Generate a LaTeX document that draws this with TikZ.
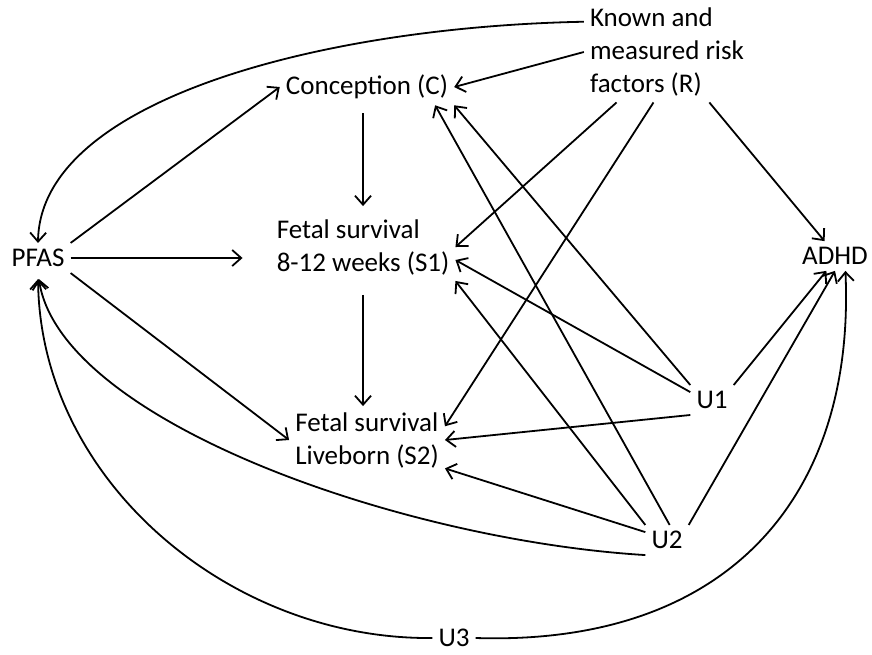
\documentclass[tikz,border=0pt]{standalone}
\usepackage{fontspec}
\setmainfont{Carlito}
\usepackage{tikz}
\usetikzlibrary{arrows.meta,positioning}

\begin{document}
\begin{tikzpicture}[x=1pt, y=-1pt,
  var/.style={font=\fontsize{27}{33}\selectfont, align=left, inner sep=6pt},
  arr/.style={-{Straight Barb[length=9pt,width=16pt]}, line width=1.8pt}
]
\useasboundingbox (0,0) rectangle (872,654);
\node[var] (pfas) at (38,258)  {PFAS};
\node[var] (conc) at (367,87)  {Conception (C)};
\node[var] (risk) at (667,52)  {Known and\\measured risk\\factors (R)};
\node[var] (s1)   at (363,247) {Fetal survival\\8-12 weeks (S1)};
\node[var] (s2)   at (367,440) {Fetal survival\\Liveborn (S2)};
\node[var] (adhd) at (835,256) {ADHD};
\node[var] (u1)   at (712,400) {U1};
\node[var] (u2)   at (667,540) {U2};
\node[var] (u3)   at (454,638) {U3};
\draw[arr] (pfas.north east) -- (conc.west);
\draw[arr, shorten >=28pt] (pfas.east) -- (pfas.east -| s1.west);
\draw[arr] (pfas.south east) -- (s2.west);
\draw[arr, shorten <=8pt, shorten >=7pt] (s1.north |- conc.south) -- (s1.north);
\draw[arr, shorten <=14pt] (s1.south) -- (s1.south |- s2.north);
\draw[arr] (risk.west) -- (conc.east);
\draw[arr] (risk.-135) -- (s1.east);
\draw[arr] (risk.-105) -- (s2.10);
\draw[arr] (risk.-50) -- (adhd.125);
\draw[arr] (risk.160) .. controls +(-262,5) and +(2,-143) .. (pfas.north);
\draw[arr] (u1.north west) -- (conc.south east);
\draw[arr] (u1.160) -- (s1.-8);
\draw[arr] (u1.south west) -- (s2.east);
\draw[arr] (u1.north east) -- (adhd.-120);
\draw[arr] (u2.80) -- (conc.-15);
\draw[arr] (u2.north west) -- (s1.south east);
\draw[arr] (u2.160) -- (s2.-20);
\draw[arr] (u2.north east) -- (adhd.south);
\draw[arr, shorten >=6pt] (u2.south west) .. controls +(-246,-15) and +(22,147) .. (pfas.south);
\draw[arr, shorten >=6pt] (u3.west) .. controls +(-203,2) and +(2,207) .. (pfas.south);
\draw[arr] (u3.east) .. controls +(253,8) and +(10,225) .. (adhd.-55);
\end{tikzpicture}
\end{document}
